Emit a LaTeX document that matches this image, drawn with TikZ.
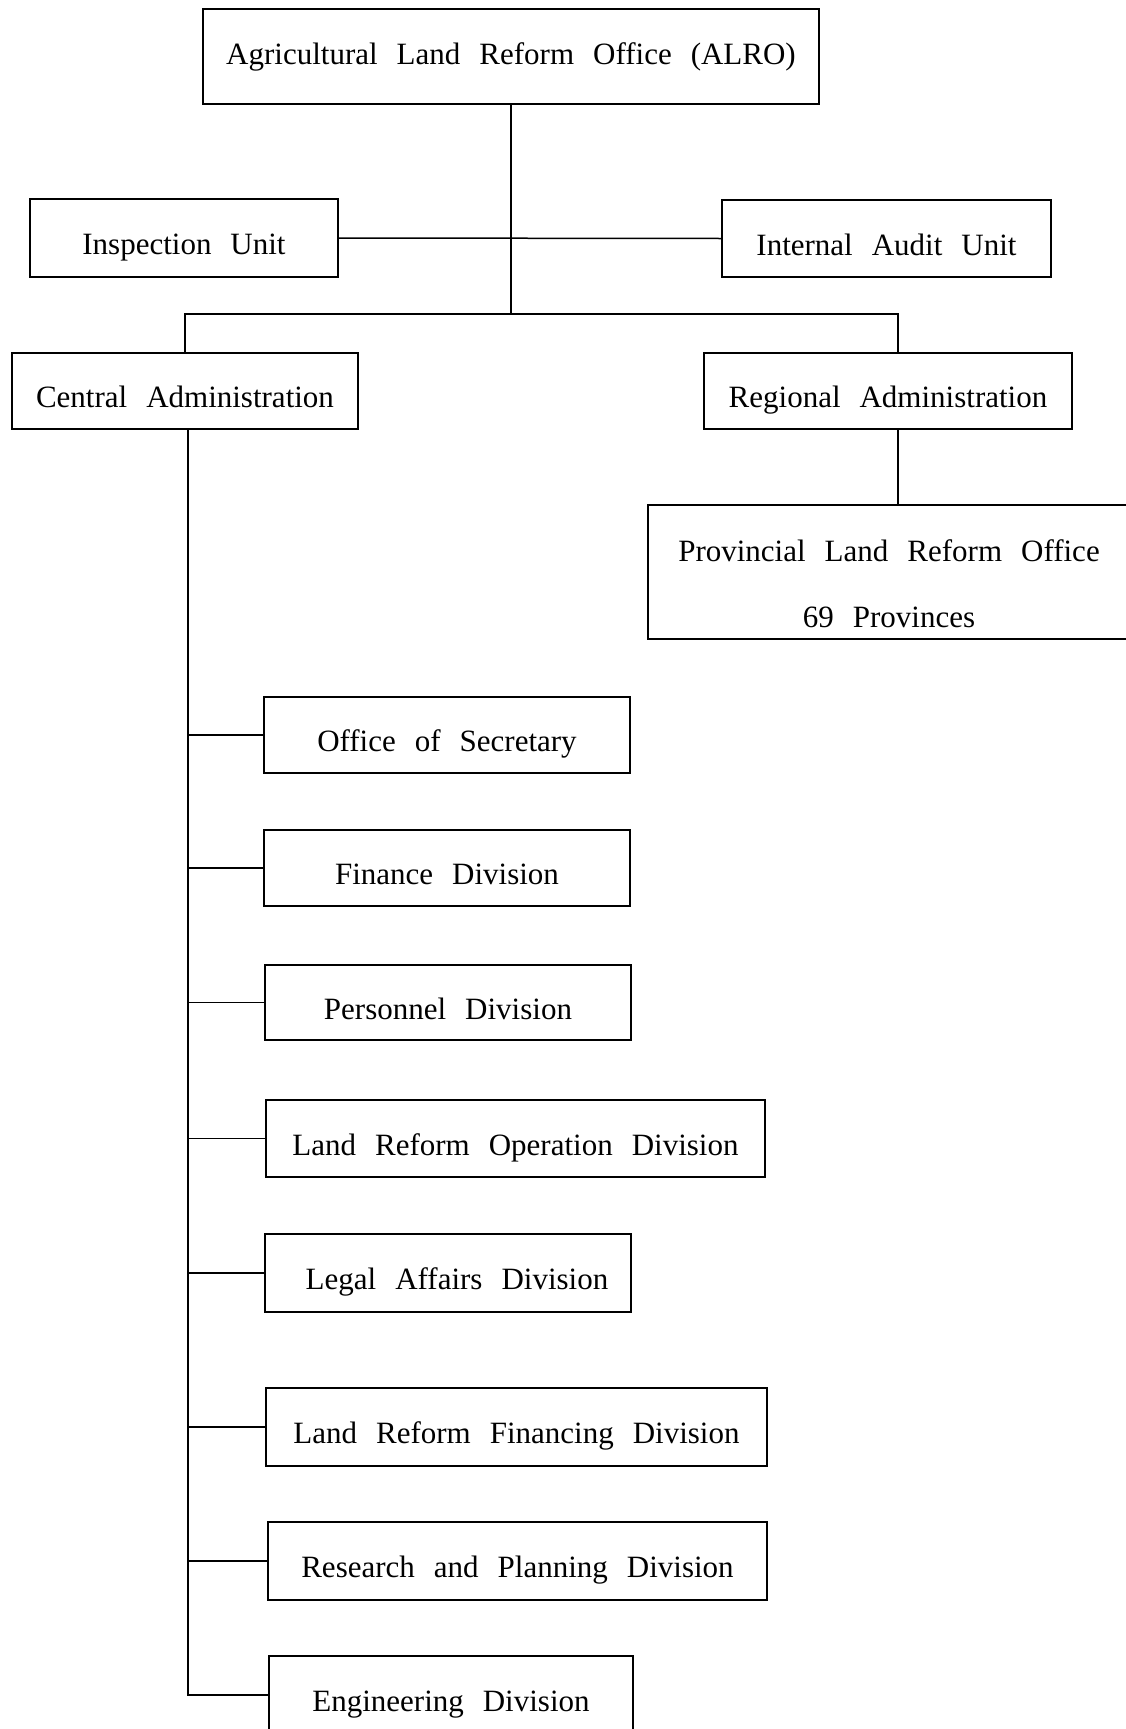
\documentclass[tikz,border=0pt]{standalone}
\usepackage{fontspec}
\setmainfont{Liberation Serif}
\newcommand\boxfont{\fontsize{31}{37}\selectfont\spaceskip=19pt plus 3pt minus 3pt\relax}
\begin{document}
\begin{tikzpicture}[x=1pt,y=-1pt,
  box/.style={draw,line width=1.8pt,inner sep=0pt,font=\boxfont,text height=33pt,text depth=0pt},
  link/.style={line width=1.5pt}]
\useasboundingbox (0,0) rectangle (1126,1729);
\node[box,text height=,text depth=,minimum width=616pt,minimum height=95pt] (alro) at (511,56.5) {Agricultural Land Reform Office (ALRO)};
\node[box,minimum width=308pt,minimum height=78pt] (insp) at (184,238) {Inspection Unit};
\node[box,minimum width=329pt,minimum height=77pt] (audit) at (886.5,238.5) {Internal Audit Unit};
\node[box,minimum width=346pt,minimum height=76pt] (central) at (185,391) {Central Administration};
\node[box,minimum width=368pt,minimum height=76pt] (regional) at (888,391) {Regional Administration};
\node[box,text height=0pt,text depth=0pt,minimum width=482pt,minimum height=134pt] (prov) at (889,572) {\raisebox{-21pt}[0pt][0pt]{\begin{tabular}{@{}c@{}}Provincial Land Reform Office\\[29pt]69 Provinces\end{tabular}}};
\node[box,minimum width=366pt,minimum height=76pt] (sec) at (447,735) {Office of Secretary};
\node[box,minimum width=366pt,minimum height=76pt] (fin) at (447,868) {Finance Division};
\node[box,minimum width=366pt,minimum height=75pt] (pers) at (448,1002.5) {Personnel Division};
\node[box,minimum width=499pt,minimum height=77pt] (lro) at (515.5,1138.5) {Land Reform Operation Division};
\node[box,minimum width=366pt,minimum height=78pt] (legal) at (448,1273) {\hspace*{18pt}Legal Affairs Division};
\node[box,minimum width=501pt,minimum height=78pt] (lrf) at (516.5,1427) {Land Reform Financing Division};
\node[box,minimum width=499pt,minimum height=78pt] (res) at (517.5,1561) {Research and Planning Division};
\node[box,minimum width=364pt,minimum height=78pt] (eng) at (451,1695) {Engineering Division};

\coordinate (bus) at (511,314);
\coordinate (busL) at (185,314);
\coordinate (busR) at (898,314);
\coordinate (trunk) at (188,429);

\draw[link] (alro.south) -- (bus);
\draw[link] (insp.east) -- (audit.west);
\draw[link] (central.north) -- (busL) -- (busR) -- (busR |- regional.north);
\draw[link] (busR |- regional.south) -- (busR |- prov.north);
\draw[link] (trunk) -- (trunk |- eng.west) -- (eng.west);
\foreach \n in {sec,fin,pers,lro,legal,lrf,res}
  \draw[link] (trunk |- \n.west) -- (\n.west);
\end{tikzpicture}
\end{document}
